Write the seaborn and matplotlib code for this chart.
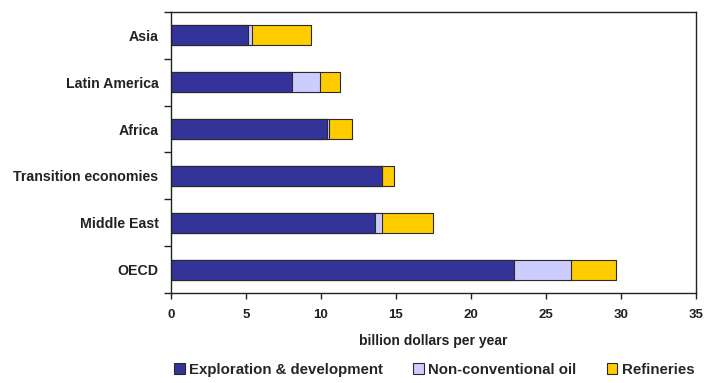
import matplotlib
matplotlib.use("Agg")
import matplotlib.pyplot as plt
import seaborn as sns
import pandas as pd
import numpy as np
from matplotlib.patches import Patch

regions = ["Asia", "Latin America", "Africa", "Transition economies", "Middle East", "OECD"]
exploration = [5.15, 8.05, 10.4, 14.05, 13.6, 22.9]
nonconventional = [0.25, 1.9, 0.15, 0.0, 0.5, 3.8]
refineries = [3.95, 1.3, 1.5, 0.85, 3.35, 3.0]
series_names = ["Exploration & development", "Non-conventional oil", "Refineries"]
x_ticks = [0, 5, 10, 15, 20, 25, 30, 35]

colors = ["#333399", "#CCCCFF", "#FFCC00"]

sns.set_theme(style="white")
plt.rcParams['font.family'] = ['Liberation Sans', 'DejaVu Sans']

df = pd.DataFrame({
    "region": regions,
    "e": exploration,
    "n": nonconventional,
    "r": refineries,
})
df["cum1"] = df["e"]
df["cum2"] = df["e"] + df["n"]
df["cum3"] = df["e"] + df["n"] + df["r"]

fig = plt.figure(figsize=(7.19, 3.83), dpi=100)
ax = fig.add_axes([0.2378, 0.2342, 0.968 - 0.2378, 0.9695 - 0.2342])

for col, c in zip(["cum3", "cum2", "cum1"], [colors[2], colors[1], colors[0]]):
    sns.barplot(data=df, y="region", x=col, order=regions, orient="h",
                color=c, saturation=1, width=0.43, edgecolor="#2a2a2a",
                linewidth=0.8, ax=ax)

ax.set_xlim(0, 35)
ax.set_ylim(5.5, -0.5)
ax.set_xticks(x_ticks)
ax.set_xticklabels([str(t) for t in x_ticks], fontsize=9.5, fontweight="bold", color="#222222")
ax.set_yticks(range(len(regions)))
ax.set_yticklabels(regions, fontsize=10.2, fontweight="bold", color="#222222")
ax.set_yticks(np.arange(-0.5, len(regions), 1.0), minor=True)
ax.tick_params(axis="y", which="major", length=0, pad=9)
ax.tick_params(axis="y", which="minor", length=5, width=1, color="#222222", direction="out", left=True)
ax.tick_params(axis="x", which="major", length=4, width=1, color="#222222", direction="out", bottom=True, pad=7)
ax.set_xlabel("billion dollars per year", fontsize=10, fontweight="bold", color="#222222", labelpad=10)
ax.set_ylabel("")

for s in ax.spines.values():
    s.set_visible(True)
    s.set_color("#222222")
    s.set_linewidth(1.0)

handles = [Patch(facecolor=c, edgecolor="#2a2a2a", linewidth=0.8) for c in colors]
fig.legend(handles, series_names, loc="center", bbox_to_anchor=(0.604, 0.035),
           ncol=3, frameon=False, prop={"weight": "bold", "size": 10.8},
           handlelength=0.7, handleheight=0.7, handletextpad=0.3, columnspacing=2.0)

fig.savefig("out.png", dpi=100)
